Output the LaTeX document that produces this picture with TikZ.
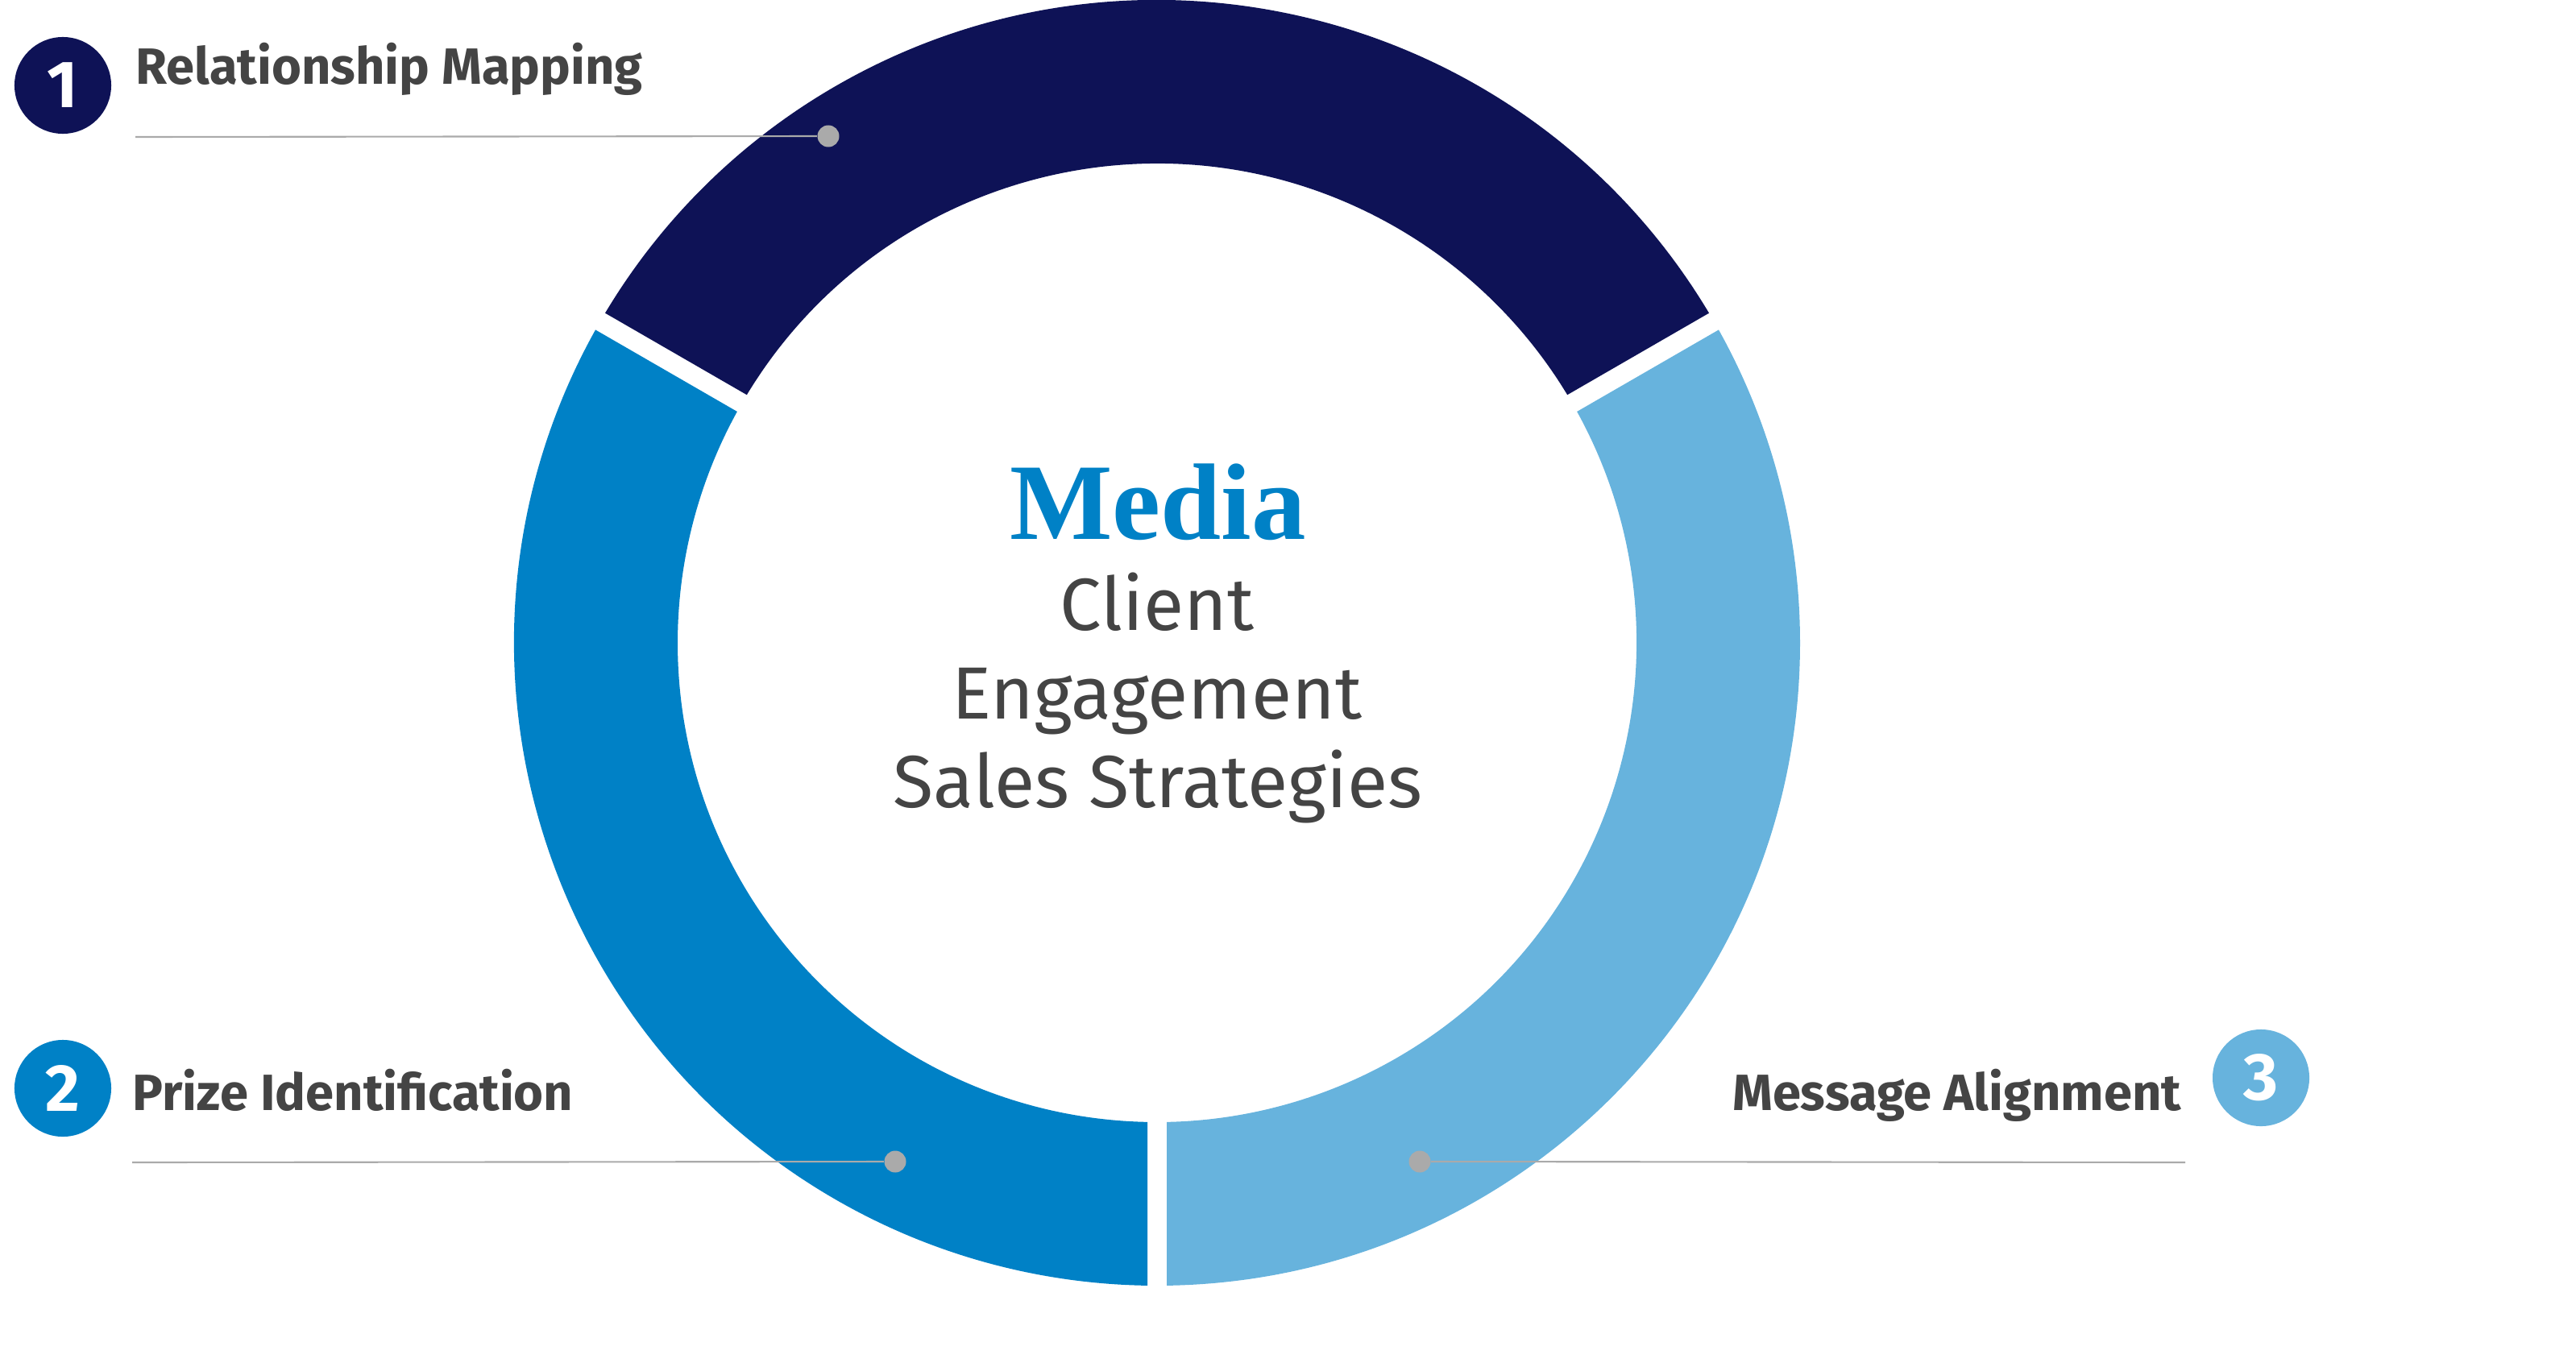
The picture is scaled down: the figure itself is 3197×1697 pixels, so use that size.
\documentclass[tikz,border=0pt]{standalone}
\usepackage{fontspec}
\setmainfont{Fira Sans}
\newfontfamily\mediafont{Liberation Serif}
\usetikzlibrary{positioning}
\definecolor{navy}{HTML}{0E1256}
\definecolor{midblue}{HTML}{0081C6}
\definecolor{lightblue}{HTML}{67B3DD}
\definecolor{textgray}{HTML}{444444}
\definecolor{linegray}{HTML}{AAAAAA}
\begin{document}
\begin{tikzpicture}[
    x=0.01cm, y=-0.01cm,
    badge/.style={circle, minimum size=1.2cm, inner sep=0pt, text=white, font=\fontsize{23.5}{24}\selectfont\bfseries},
    lbl/.style={inner sep=0pt, text=textgray, font=\fontsize{18}{20}\selectfont\bfseries},
    centre/.style={anchor=base, inner sep=0pt, text=textgray, font=\fontsize{26.1}{28}\selectfont},
    dot/.style={circle, fill=linegray, minimum size=0.27cm, inner sep=0pt},
    lead/.style={linegray, line width=0.6pt}
]
\useasboundingbox (0,0) rectangle (3197,1697);
% ring of three segments
\def\Ro{798}
\def\Ri{595}
\begin{scope}[shift={(1436,798)}, y=0.01cm]
\foreach \a/\b/\c in {30/150/navy, 150/270/midblue, 270/390/lightblue}
  \fill[\c] ({\a+asin(12/\Ro)}:\Ro) arc[start angle={\a+asin(12/\Ro)}, end angle={\b-asin(12/\Ro)}, radius=\Ro]
    -- ({\b-asin(12/\Ri)}:\Ri) arc[start angle={\b-asin(12/\Ri)}, end angle={\a+asin(12/\Ri)}, radius=\Ri] -- cycle;
\end{scope}
% centre text
\node[centre, text=midblue, font=\fontsize{38.4}{40}\selectfont\mediafont\bfseries] (media) at (1437,669) {Media};
\node[centre] (client) at (1436,782) {Client};
\node[centre] (engage) at (1436,892) {Engagement};
\node[centre] (sales) at (1437,1002) {Sales Strategies};
% badges and labels
\node[badge, fill=navy] (b1) at (78,106) {1};
\node[badge, fill=midblue] (b2) at (78,1351) {2};
\node[badge, fill=lightblue] (b3) at (2806,1338) {3};
\node[lbl, anchor=base west] (l1) at (168,105) {Relationship Mapping};
\node[lbl, anchor=base west] (l2) at (164,1378) {Prize Identification};
\node[lbl, anchor=base east] (l3) at (2708,1378) {Message Alignment};
% leader lines
\coordinate (s1) at (168,170);
\coordinate (s2) at (164,1443);
\coordinate (s3) at (2712,1443);
\node[dot] (d1) at (1028,169) {};
\node[dot] (d2) at (1111,1442) {};
\node[dot] (d3) at (1762,1442) {};
\draw[lead] (s1) -- (d1);
\draw[lead] (s2) -- (d2);
\draw[lead] (d3) -- (s3);
\end{tikzpicture}
\end{document}
